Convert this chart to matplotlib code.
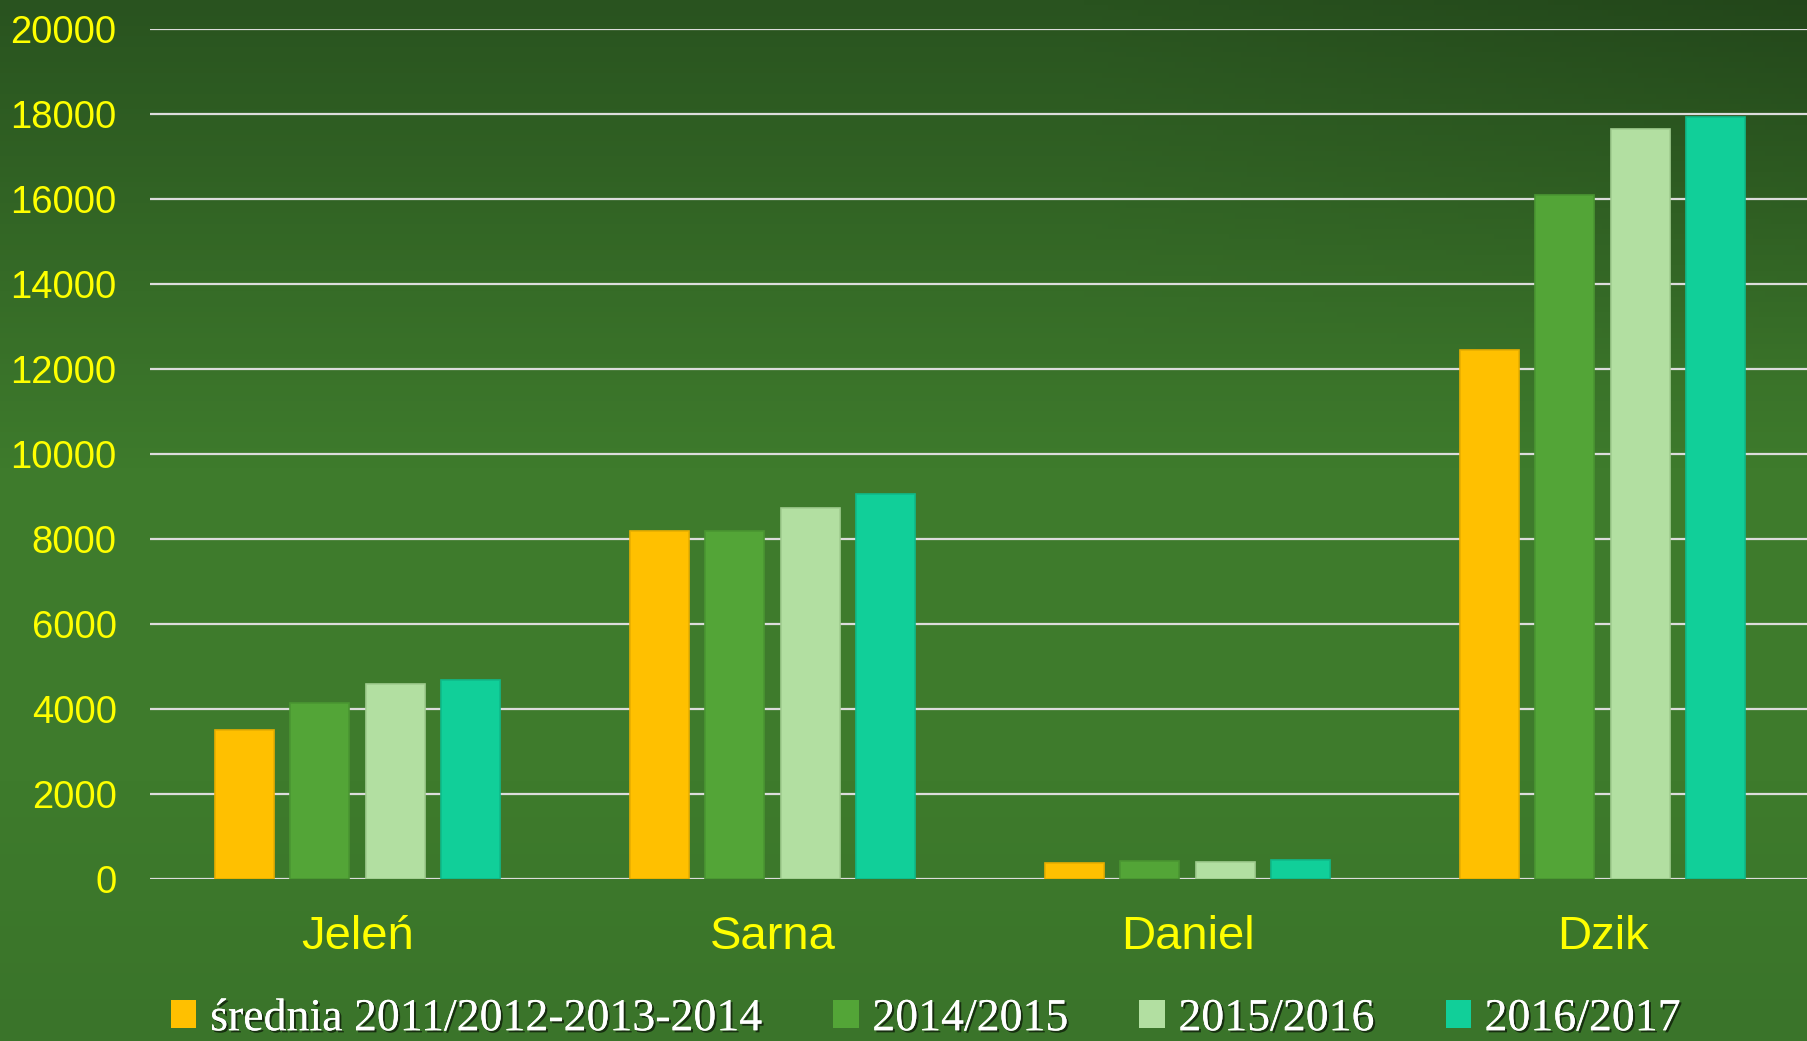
import matplotlib
matplotlib.use("Agg")
import matplotlib.pyplot as plt
import matplotlib.patheffects as pe
from matplotlib.patches import Patch
import numpy as np

# chart data
categories = ["Jeleń", "Sarna", "Daniel", "Dzik"]
series_labels = ["średnia 2011/2012-2013-2014", "2014/2015", "2015/2016", "2016/2017"]
avg_2011_2014 = [3500, 8200, 370, 12450]
s_2014_2015 = [4130, 8200, 420, 16100]
s_2015_2016 = [4600, 8720, 390, 17650]
s_2016_2017 = [4680, 9050, 455, 17920]
y_ticks = [0, 2000, 4000, 6000, 8000, 10000, 12000, 14000, 16000, 18000, 20000]

series = [avg_2011_2014, s_2014_2015, s_2015_2016, s_2016_2017]
colors = ["#FFC000", "#53A537", "#B2DFA1", "#11CF99"]
edges = ["#E8AE00", "#4A9632", "#A0CC8F", "#0FBA8A"]

W, H = 1807, 1041
fig = plt.figure(figsize=(W / 100, H / 100), dpi=100)

# background gradient (dark green at the top, lighter lower down)
bg = fig.add_axes([0, 0, 1, 1], zorder=-10)
yy, xx = np.mgrid[0:1:200j, 0:1:300j]
top = np.array([0x29, 0x53, 0x1f]) / 255
mid = np.array([0x3e, 0x7b, 0x2c]) / 255
bot = np.array([0x3a, 0x74, 0x2a]) / 255
t = np.clip(yy / 0.45, 0, 1)[..., None]
img = top * (1 - t) + mid * t
low = np.clip((yy - 0.75) / 0.25, 0, 1)[..., None]
img = img * (1 - low) + bot * low
# darker toward upper right corner
dark = (np.clip(xx - 0.6, 0, 1) / 0.4 * np.clip(1 - yy / 0.35, 0, 1))[..., None]
img = img * (1 - 0.15 * dark)
bg.imshow(img, aspect="auto", extent=[0, 1, 0, 1], origin="upper")
bg.axis("off")

ax = fig.add_axes([150 / W, 1 - 879 / H, 1 - 150 / W, (879 - 29) / H])
ax.patch.set_alpha(0)

x = np.arange(len(categories))
width = 0.142
pitch = 0.182
for i, (vals, c, ec) in enumerate(zip(series, colors, edges)):
    ax.bar(x + (i - 1.5) * pitch, vals, width, color=c, edgecolor=ec, linewidth=1.2,
           label=series_labels[i], zorder=3)

ax.set_ylim(0, 20000)
ax.set_xlim(-0.5, 3.5 - 3 / 415)
ax.set_yticks(y_ticks)
ax.set_yticklabels([str(v) for v in y_ticks])
ax.set_xticks(x)
ax.set_xticklabels(categories)
ax.yaxis.grid(True, color="#dcdcdc", linewidth=1.6, zorder=1)
ax.set_axisbelow(True)
for s in ax.spines.values():
    s.set_visible(False)
ax.tick_params(axis="y", length=0, pad=24, labelsize=27.5, labelcolor="#FFFF00")
ax.tick_params(axis="x", length=0, pad=26, labelsize=34, labelcolor="#FFFF00")
for lab in ax.get_xticklabels() + ax.get_yticklabels():
    lab.set_family(["Liberation Sans", "DejaVu Sans"])

handles = [Patch(facecolor=c, edgecolor="none") for c in colors]
leg = fig.legend(handles, series_labels, loc="center", bbox_to_anchor=(926 / W, 1 - 1019 / H),
                 ncol=4, frameon=False, handlelength=0.55, handleheight=0.55,
                 handletextpad=0.3, columnspacing=1.55,
                 prop={"family": ["Liberation Serif", "DejaVu Serif"], "size": 33})
for txt in leg.get_texts():
    txt.set_color("white")
    txt.set_path_effects([pe.withSimplePatchShadow(offset=(1.5, -1.5), shadow_rgbFace="black", alpha=0.6),
                          pe.Normal()])

fig.savefig("out.png", dpi=100)
